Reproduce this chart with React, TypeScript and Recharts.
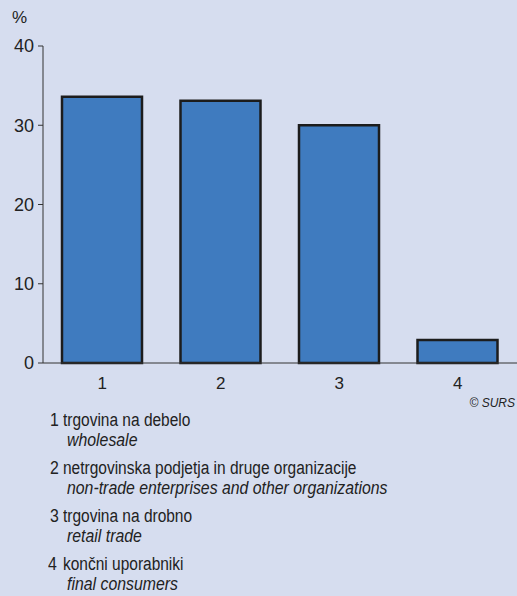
import { BarChart, Bar, XAxis, YAxis } from 'recharts';

const categories = ['1', '2', '3', '4'];
const shares = [33.6, 33.1, 30.0, 2.9];
const yTicks = [0, 10, 20, 30, 40];
const labelsSl = [
  'trgovina na debelo',
  'netrgovinska podjetja in druge organizacije',
  'trgovina na drobno',
  'končni uporabniki',
];
const labelsEn = [
  'wholesale',
  'non-trade enterprises and other organizations',
  'retail trade',
  'final consumers',
];

const font = "'Liberation Sans Narrow', 'Arial Narrow', 'Liberation Sans', Arial, sans-serif";
const ink = '#222';

const data = categories.map((c, i) => ({ cat: c, value: shares[i] }));

// condensed look of the original typeface
const narrow = (k: number) => ({ transform: `scaleX(${k})`, transformOrigin: 'left top' } as const);

export default function App() {
  return (
    <div
      style={{
        position: 'absolute',
        left: 0,
        top: 0,
        width: 517,
        height: 596,
        background: '#d6ddef',
        fontFamily: font,
        color: ink,
        overflow: 'hidden',
      }}
    >
      <div style={{ position: 'absolute', left: 12, top: 8, fontSize: 17 }}>%</div>
      <BarChart
        width={517}
        height={400}
        data={data}
        margin={{ top: 46, right: 0, bottom: 7, left: 0 }}
        barSize={80}
      >
        <YAxis
          width={43}
          domain={[0, 40]}
          ticks={yTicks}
          interval={0}
          tickSize={5}
          tickMargin={4}
          axisLine={{ stroke: '#333', strokeWidth: 1 }}
          tickLine={{ stroke: '#333', strokeWidth: 1 }}
          tick={{ fill: ink, fontSize: 18, fontFamily: font }}
        />
        <XAxis
          dataKey="cat"
          height={30}
          tickLine={false}
          tickMargin={8}
          axisLine={{ stroke: '#333', strokeWidth: 1 }}
          tick={{ fill: ink, fontSize: 17, fontFamily: font }}
        />
        <Bar
          dataKey="value"
          fill="#3f7bbf"
          stroke="#1c1c1c"
          strokeWidth={2.5}
          isAnimationActive={false}
        />
      </BarChart>
      <div
        style={{
          position: 'absolute',
          right: 2,
          top: 396,
          fontSize: 12,
          fontStyle: 'italic',
        }}
      >
        © SURS
      </div>
      {labelsSl.map((sl, i) => {
        const top = 410 + i * 48;
        const base = { position: 'absolute', fontSize: 18, lineHeight: '20px', whiteSpace: 'nowrap' } as const;
        return (
          <div key={sl}>
            <div style={{ ...base, left: i === 3 ? 48 : 50, top, ...narrow(0.88) }}>
              {categories[i]}
            </div>
            <div style={{ ...base, left: 63, top, ...narrow(0.86) }}>{sl}</div>
            <div style={{ ...base, left: 67, top: top + 20, fontStyle: 'italic', ...narrow(0.88) }}>
              {labelsEn[i]}
            </div>
          </div>
        );
      })}
    </div>
  );
}
